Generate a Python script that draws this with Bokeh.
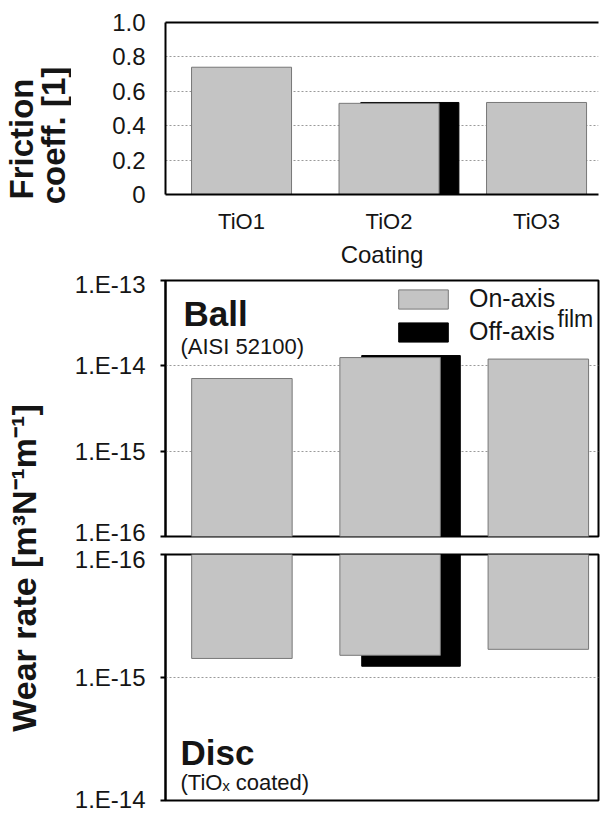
import math
from bokeh.plotting import figure
from bokeh.layouts import row, column
from bokeh.models import (Range1d, FixedTicker, CustomJSTickFormatter, LinearAxis,
                          Label, Legend, LegendItem)
from bokeh.embed import file_html
from bokeh.resources import INLINE

# ---------------- data ----------------
categories = ["TiO1", "TiO2", "TiO3"]
off_axis_categories = ["TiO2"]
friction_on = [0.74, 0.53, 0.535]
friction_off = [0.535]
ball_on = [7.1e-15, 1.25e-14, 1.2e-14]
ball_off = [1.32e-14]
disc_on = [7.0e-16, 6.6e-16, 5.9e-16]
disc_off = [8.1e-16]
friction_ticks = [0, 0.2, 0.4, 0.6, 0.8, 1.0]
friction_grid = [0.2, 0.4, 0.6, 0.8]
ball_ticks = [1e-16, 1e-15, 1e-14, 1e-13]
ball_grid = [1e-15, 1e-14]
disc_ticks = [1e-16, 1e-15, 1e-14]
disc_grid = [1e-15]
legend_labels = ["On-axis", "Off-axis"]

# ---------------- style ----------------
FONT = "Liberation Sans"
TXT = "#151515"
GRAY = "#c4c4c4"
GRAY_LINE = "#777777"
GRID = "#9a9a9a"
ON_W = 0.678
OFF_W = 0.665
OFF_SHIFT = 0.141
TITLE_W = 71
MAIN_W = 600 - TITLE_W
LEFT_B = 165 - TITLE_W

x_on = [categories.index(c) + 0.5 for c in categories]
x_off = [categories.index(c) + 0.5 + OFF_SHIFT for c in off_axis_categories]

log_fmt = CustomJSTickFormatter(code="return '1.E' + Math.round(Math.log10(tick));")
fric_fmt = CustomJSTickFormatter(code="return tick == 0 ? '0' : tick.toFixed(1);")


def style_yaxis(ax, ticks, fmt, tick_out, standoff):
    ax.ticker = FixedTicker(ticks=ticks)
    ax.formatter = fmt
    ax.major_tick_out = tick_out
    ax.major_tick_in = 0
    ax.major_tick_line_color = "black"
    ax.major_tick_line_width = 2
    ax.minor_tick_line_color = None
    ax.axis_line_color = "black"
    ax.axis_line_width = 2
    ax.major_label_text_font = FONT
    ax.major_label_text_font_size = "24px"
    ax.major_label_text_color = TXT
    ax.major_label_standoff = standoff


def style_grid(g, ticks):
    g.ticker = FixedTicker(ticks=ticks)
    g.grid_line_color = GRID
    g.grid_line_width = 1
    g.grid_line_dash = "2 2"


def screen_label(fig, x, y, text, size, bold=False):
    fig.add_layout(Label(x=x, y=y, x_units="screen", y_units="screen", text=text,
                         text_font=FONT, text_font_size=size,
                         text_font_style="bold" if bold else "normal",
                         text_color=TXT, text_baseline="middle", text_align="left"))


# ---------------- title column ----------------
tf = figure(width=TITLE_W, height=812, x_range=Range1d(0, TITLE_W), y_range=Range1d(0, 812),
            output_backend="svg", toolbar_location=None, min_border=0,
            x_axis_location=None, y_axis_location=None, outline_line_color=None)
tf.grid.visible = False
for txt, xx, yy, fs in [("Friction", 21, 673.5, "33px"),
                        ("coeff. [1]", 53, 677, "33px"),
                        ("Wear rate [m³N⁻¹m⁻¹]", 23, 244.5, "34px")]:
    tf.add_layout(Label(x=xx, y=yy, text=txt, angle=math.pi / 2,
                        text_align="center", text_baseline="middle",
                        text_font=FONT, text_font_style="bold",
                        text_font_size=fs, text_color=TXT))

# ---------------- friction panel ----------------
top = figure(width=MAIN_W, height=270, x_range=Range1d(-0.0155, 2.92), y_range=Range1d(0, 1.0),
             output_backend="svg", toolbar_location=None,
             min_border_left=LEFT_B, min_border_right=0, min_border_top=22, min_border_bottom=66,
             outline_line_color=None)
top.xgrid.visible = False
style_grid(top.ygrid[0], friction_grid)
style_yaxis(top.yaxis[0], friction_ticks, fric_fmt, 0, 20)
xa = top.xaxis[0]
xa.ticker = FixedTicker(ticks=x_on)
xa.major_label_overrides = {x: c for x, c in zip(x_on, categories)}
xa.major_tick_line_color = None
xa.minor_tick_line_color = None
xa.axis_line_color = "black"
xa.axis_line_width = 2
xa.major_label_text_font = FONT
xa.major_label_text_font_size = "22px"
xa.major_label_text_color = TXT
xa.major_label_standoff = 8
xa.axis_label = "Coating"
xa.axis_label_text_font = FONT
xa.axis_label_text_font_size = "24px"
xa.axis_label_text_font_style = "normal"
xa.axis_label_text_color = TXT
xa.axis_label_standoff = 4
top_border = LinearAxis(ticker=FixedTicker(ticks=[]), major_label_text_font_size="0px",
                        major_tick_line_color=None, minor_tick_line_color=None,
                        axis_line_color="black", axis_line_width=2)
top.add_layout(top_border, "above")
top.vbar(x=x_off, top=friction_off, width=OFF_W, fill_color="black", line_color="black")
top.vbar(x=x_on, top=friction_on, width=ON_W, fill_color=GRAY, line_color=GRAY_LINE)

# ---------------- ball panel ----------------
ball = figure(width=MAIN_W, height=275, x_range=Range1d(-0.0155, 2.906),
              y_range=Range1d(1e-16, 1e-13), y_axis_type="log",
              output_backend="svg", toolbar_location=None, x_axis_location=None,
              min_border_left=LEFT_B, min_border_right=2, min_border_top=10, min_border_bottom=9,
              outline_line_color="black", outline_line_width=2, outline_line_alpha=1)
ball.xgrid.visible = False
style_grid(ball.ygrid[0], ball_grid)
style_yaxis(ball.yaxis[0], ball_ticks, log_fmt, 5, 15)
r_off = ball.vbar(x=x_off, top=ball_off, bottom=1e-16, width=OFF_W,
                  fill_color="black", line_color="black")
r_on = ball.vbar(x=x_on, top=ball_on, bottom=1e-16, width=ON_W,
                 fill_color=GRAY, line_color=GRAY_LINE)
legend = Legend(items=[LegendItem(label=legend_labels[0], renderers=[r_on]),
                       LegendItem(label=legend_labels[1], renderers=[r_off])],
                location=(227, 190), padding=0, margin=0, spacing=4,
                glyph_width=62, glyph_height=24, label_standoff=15,
                label_text_font=FONT, label_text_font_size="25px", label_text_color=TXT,
                border_line_color=None, background_fill_alpha=0)
ball.add_layout(legend)
screen_label(ball, 392, 218, "film", "23px")
screen_label(ball, 18, 223, "Ball", "35px", bold=True)
screen_label(ball, 15, 190, "(AISI 52100)", "22px")

# ---------------- disc panel ----------------
disc = figure(width=MAIN_W, height=267, x_range=Range1d(-0.0155, 2.906),
              y_range=Range1d(1e-14, 1e-16), y_axis_type="log",
              output_backend="svg", toolbar_location=None, x_axis_location=None,
              min_border_left=LEFT_B, min_border_right=2, min_border_top=9, min_border_bottom=12,
              outline_line_color="black", outline_line_width=2, outline_line_alpha=1)
disc.xgrid.visible = False
style_grid(disc.ygrid[0], disc_grid)
style_yaxis(disc.yaxis[0], disc_ticks, log_fmt, 5, 15)
disc.vbar(x=x_off, top=disc_off, bottom=1e-16, width=OFF_W, fill_color="black", line_color="black")
disc.vbar(x=x_on, top=disc_on, bottom=1e-16, width=ON_W, fill_color=GRAY, line_color=GRAY_LINE)
screen_label(disc, 15, 48, "Disc", "35px", bold=True)
screen_label(disc, 15, 18, "(TiOₓ coated)", "22px")

layout = row(tf, column(top, ball, disc))
open("out.html", "w").write(file_html(layout, INLINE))
